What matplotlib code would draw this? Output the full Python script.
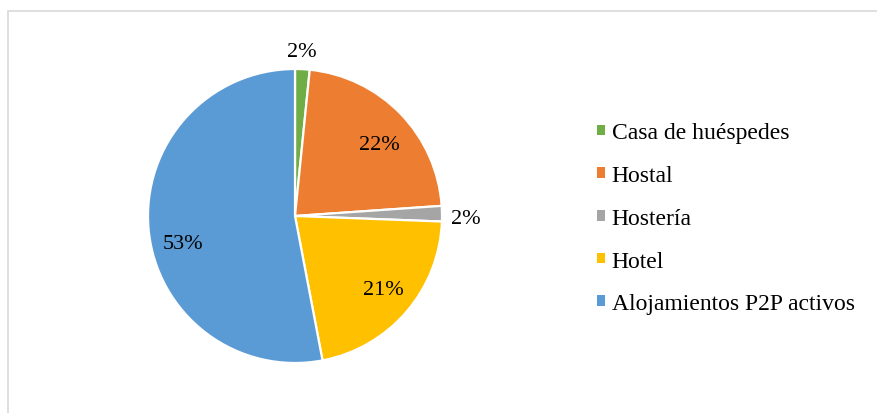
import numpy as np
import matplotlib.pyplot as plt
from matplotlib.patches import Patch, Rectangle

categories = ["Casa de huéspedes", "Hostal", "Hostería", "Hotel",
              "Alojamientos P2P activos"]
shares = [1.6, 22.3, 1.7, 21.4, 53.0]
colors = ["#70AD47", "#ED7D31", "#A5A5A5", "#FFC000", "#5B9BD5"]
outside = [True, False, True, False, False]
# small label nudges (points), like Excel's "best fit" placement
nudges = [(-1.5, -4), (2, -5), (0, -3.5), (2, 0.5), (0.5, -12)]

plt.rcParams["font.family"] = ["Liberation Serif", "DejaVu Serif"]

fig = plt.figure(figsize=(8.77, 4.14), dpi=100)

# light chart border (only top and left visible in the crop)
fig.patches.append(Rectangle((8 / 877, -0.1), 1.2, (414 - 12) / 414 + 0.1,
                             transform=fig.transFigure, fill=False,
                             edgecolor="#d9d9d9", lw=1.2))

ax = fig.add_axes([148 / 877, 50 / 414, 294 / 877, 294 / 414])
wedges, _ = ax.pie(shares, colors=colors, startangle=90, counterclock=False,
                   wedgeprops=dict(edgecolor="white", linewidth=1.6))
ax.set_xlim(-1, 1)
ax.set_ylim(-1, 1)
ax.set_aspect("equal")

for w, v, out, nd in zip(wedges, shares, outside, nudges):
    ang = np.deg2rad((w.theta1 + w.theta2) / 2)
    r = 1.16 if out else 0.77
    ax.annotate("{:.0f}%".format(v), (r * np.cos(ang), r * np.sin(ang)),
                xytext=nd, textcoords="offset points", annotation_clip=False,
                ha="center", va="center", fontsize=16, color="black")

handles = [Patch(facecolor=c, edgecolor="none") for c in colors]
fig.legend(handles, categories, loc="upper left",
           bbox_to_anchor=(588 / 877, 1 - 114 / 414), frameon=False,
           fontsize=17, handlelength=0.32, handleheight=0.32,
           handletextpad=0.28, labelspacing=0.92, borderaxespad=0)

fig.savefig("out.png", dpi=100)
